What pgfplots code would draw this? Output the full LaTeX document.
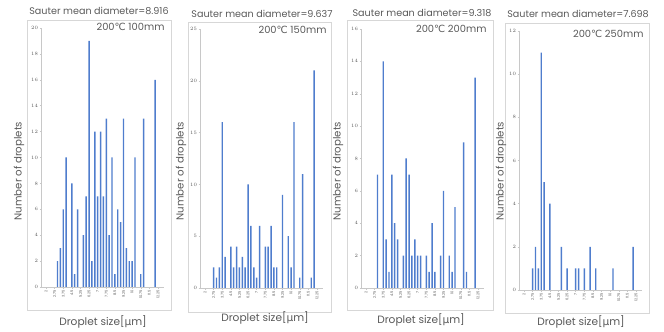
\documentclass[border=0pt]{standalone}
\usepackage{pgfplots}
\pgfplotsset{compat=1.18}
\usepackage{fontspec}
\setmainfont{Poppins}
\newfontfamily\dejavu{DejaVu Sans}
\definecolor{barblue}{RGB}{79,125,205}
\definecolor{txt}{RGB}{89,89,89}
\definecolor{axgray}{RGB}{200,200,200}
\definecolor{framegray}{RGB}{215,215,215}
\pgfplotsset{
  panel/.style={
    scale only axis, width=122pt, height=259pt,
    anchor=south west,
    xmin=-1.5, xmax=41, ymin=0,
    axis x line*=bottom, axis y line*=left,
    axis line style={axgray, line width=0.5pt},
    every tick/.style={axgray, line width=0.4pt},
    major tick length=2pt, minor tick length=1.5pt,
    tick align=outside,
    xtick={0,3,...,39},
    xticklabels={2,2.75,3.75,4.5,5.25,6.25,7,7.75,8.5,9.25,10,10.75,11.5,12.25},
    minor xtick={-0.5,0.5,...,39.5},
    scaled y ticks=false,
    yticklabel={\pgfmathprintnumber[fixed,precision=0]{\tick}},
    x tick label style={rotate=90, anchor=east, font=\fontsize{3.6}{4}\selectfont, text=txt, inner sep=1pt},
    y tick label style={font=\fontsize{3.8}{4}\selectfont, text=txt, inner sep=1.5pt},
    ybar, bar width=0.5, bar shift=0pt,
    clip=false,
  },
  bars/.style={fill=barblue, draw=none},
}
\newcommand{\ttl}[1]{\fontsize{9.6}{10}\selectfont #1}
\newcommand{\ann}[1]{\fontsize{9.9}{10}\selectfont #1}
\newcommand{\xl}{\fontsize{10.6}{11}\selectfont Droplet size[{\dejavu µ}m]}
\newcommand{\yl}{\fontsize{10.2}{11}\selectfont Number of droplets}
\begin{document}
\begin{tikzpicture}[every node/.style={text=txt}]
\path (0pt,0pt) rectangle (664pt,329pt);
% frames
\draw[framegray, line width=0.6pt] (27pt,19pt) rectangle (171pt,309pt);
\draw[framegray, line width=0.6pt] (188pt,17pt) rectangle (331pt,307pt);
\draw[framegray, line width=0.6pt] (347pt,19pt) rectangle (493pt,309pt);
\draw[framegray, line width=0.6pt] (505pt,16pt) rectangle (649pt,306pt);

% Panel 1
\begin{axis}[panel, at={(41.7pt,42pt)}, ymax=20, ytick={0,2,...,20}]
\addplot[bars] coordinates {(4,2)(5,3)(6,6)(7,10)(9,8)(10,1)(11,6)(13,4)(14,7)(15,19)(16,2)(17,12)(18,7)(19,12)(20,7)(21,13)(22,4)(23,10)(24,1)(25,6)(26,5)(27,13)(28,3)(29,2)(30,2)(31,10)(33,1)(34,13)(38,16)};
\end{axis}
% Panel 2
\begin{axis}[panel, at={(200.7pt,41pt)}, ymax=25, ytick={0,5,...,25}]
\addplot[bars] coordinates {(3,2)(4,1)(5,2)(6,16)(7,3)(9,4)(10,2)(11,4)(12,2)(13,3)(14,2)(15,10)(16,6)(17,2)(18,1)(19,6)(21,4)(22,4)(23,6)(24,2)(25,2)(27,9)(29,5)(30,2)(31,16)(33,1)(34,11)(37,1)(38,21)};
\end{axis}
% Panel 3
\begin{axis}[panel, at={(361.7pt,41pt)}, ymax=16, ytick={0,2,...,16}]
\addplot[bars] coordinates {(4,7)(6,14)(7,3)(8,1)(9,7)(10,4)(11,3)(13,2)(14,8)(15,7)(16,2)(17,3)(18,2)(19,2)(21,2)(22,1)(23,4)(24,1)(26,2)(27,6)(29,2)(30,1)(31,5)(34,9)(35,1)(38,13)};
\end{axis}
% Panel 4
\begin{axis}[panel, at={(519.7pt,39pt)}, ymax=12, ytick={0,2,...,12}]
\addplot[bars] coordinates {(3,1)(4,2)(5,1)(6,11)(7,5)(9,4)(13,2)(15,1)(18,1)(19,1)(21,1)(23,2)(25,1)(31,1)(38,2)};
\end{axis}

% titles
\node at (99pt,318pt) {\ttl{Sauter mean diameter=8.916}};
\node at (262pt,315pt) {\ttl{Sauter mean diameter=9.637}};
\node at (422pt,316pt) {\ttl{Sauter mean diameter=9.318}};
\node at (578pt,315pt) {\ttl{Sauter mean diameter=7.698}};
% annotations
\node[anchor=east] at (168pt,302pt) {\ann{200{\dejavu ℃} 100mm}};
\node[anchor=east] at (330pt,299pt) {\ann{200{\dejavu ℃} 150mm}};
\node[anchor=east] at (490pt,300pt) {\ann{200{\dejavu ℃} 200mm}};
\node[anchor=east] at (647pt,295pt) {\ann{200{\dejavu ℃} 250mm}};
% y labels
\node[rotate=90] at (19pt,158pt) {\yl};
\node[rotate=90] at (181pt,158pt) {\yl};
\node[rotate=90] at (338pt,158pt) {\yl};
\node[rotate=90] at (501pt,158pt) {\yl};
% x labels
\node at (103pt,7pt) {\xl};
\node at (265pt,11pt) {\xl};
\node at (421pt,9pt) {\xl};
\node at (581pt,7pt) {\xl};
\end{tikzpicture}
\end{document}
